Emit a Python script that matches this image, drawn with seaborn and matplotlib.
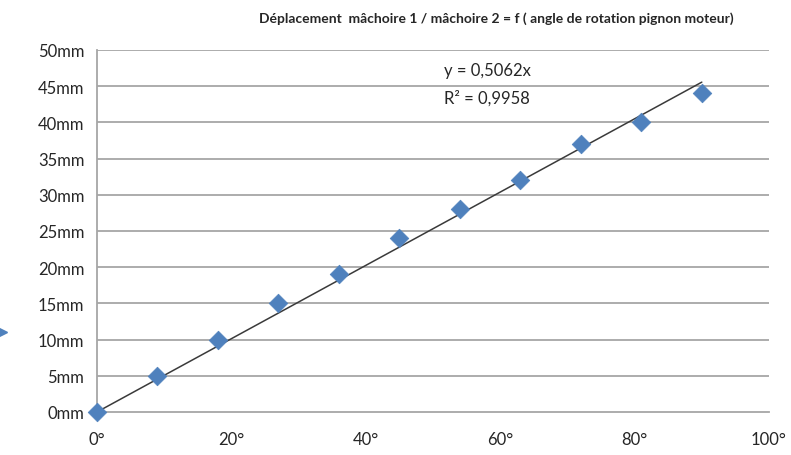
import matplotlib
matplotlib.use("Agg")
import matplotlib.pyplot as plt
import seaborn as sns
import pandas as pd
from matplotlib.lines import Line2D

angles = [0, 9, 18, 27, 36, 45, 54, 63, 72, 81, 90]
displacement = [0, 5, 10, 15, 19, 24, 28, 32, 37, 40, 44]
slope = 0.5062
r2_text = "R² = 0,9958"
eq_text = "y = 0,5062x"
title = "Déplacement  mâchoire 1 / mâchoire 2 = f ( angle de rotation pignon moteur)"
x_ticks = [0, 20, 40, 60, 80, 100]
y_ticks = [0, 5, 10, 15, 20, 25, 30, 35, 40, 45, 50]

sns.set_theme(style="white")
plt.rcParams['font.family'] = ['Lato', 'DejaVu Sans']

df = pd.DataFrame({"angle": angles, "disp": displacement})
trend = pd.DataFrame({"angle": [angles[0], angles[-1]],
                      "disp": [slope * angles[0], slope * angles[-1]]})

fig = plt.figure(figsize=(7.91, 4.56), dpi=100)
ax = fig.add_axes([0.1226, 0.0943, 0.8496, 0.7939])

ax.set_axisbelow(True)
for yv in y_ticks[1:]:
    ax.axhline(yv, color="#a6a6a6", lw=1.3, zorder=0)

sns.lineplot(data=trend, x="angle", y="disp", ax=ax, color="#3a3a3a", lw=1.1, zorder=2)
sns.scatterplot(data=df, x="angle", y="disp", ax=ax, marker="D", s=90,
                color="#4F81BD", edgecolor="#4F81BD", linewidth=0.5, zorder=3, clip_on=False)

ax.set_xlim(0, 100)
ax.set_ylim(0, 50)
ax.set_xticks(x_ticks)
ax.set_xticklabels([f"{t}°" for t in x_ticks])
ax.set_yticks(y_ticks)
ax.set_yticklabels([f"{t}mm" for t in y_ticks])
ax.set_xlabel("")
ax.set_ylabel("")

for side in ["top", "right"]:
    ax.spines[side].set_visible(False)
for side in ["left", "bottom"]:
    ax.spines[side].set_color("#a6a6a6")
    ax.spines[side].set_linewidth(1.3)

ax.tick_params(axis="both", which="major", length=6, width=1.3, color="#a6a6a6",
               labelsize=12, labelcolor="#262626", direction="out", pad=4)
ax.tick_params(axis="x", pad=8)
ax.tick_params(axis="y", pad=3)

ax.text(51.7, 47.2, eq_text, fontsize=12, color="#262626", va="center", ha="left")
ax.text(51.7, 43.5, r2_text, fontsize=12, color="#262626", va="center", ha="left")

fig.text(0.627, 0.96, title, fontsize=10, fontweight="bold", color="#262626",
         ha="center", va="center")

# small blue marker at the left edge of the reference
fig.add_artist(Line2D([0.003], [1 - 333 / 456], marker=">", markersize=7,
                      color="#4F81BD", transform=fig.transFigure))

fig.savefig("out.png", dpi=100)
